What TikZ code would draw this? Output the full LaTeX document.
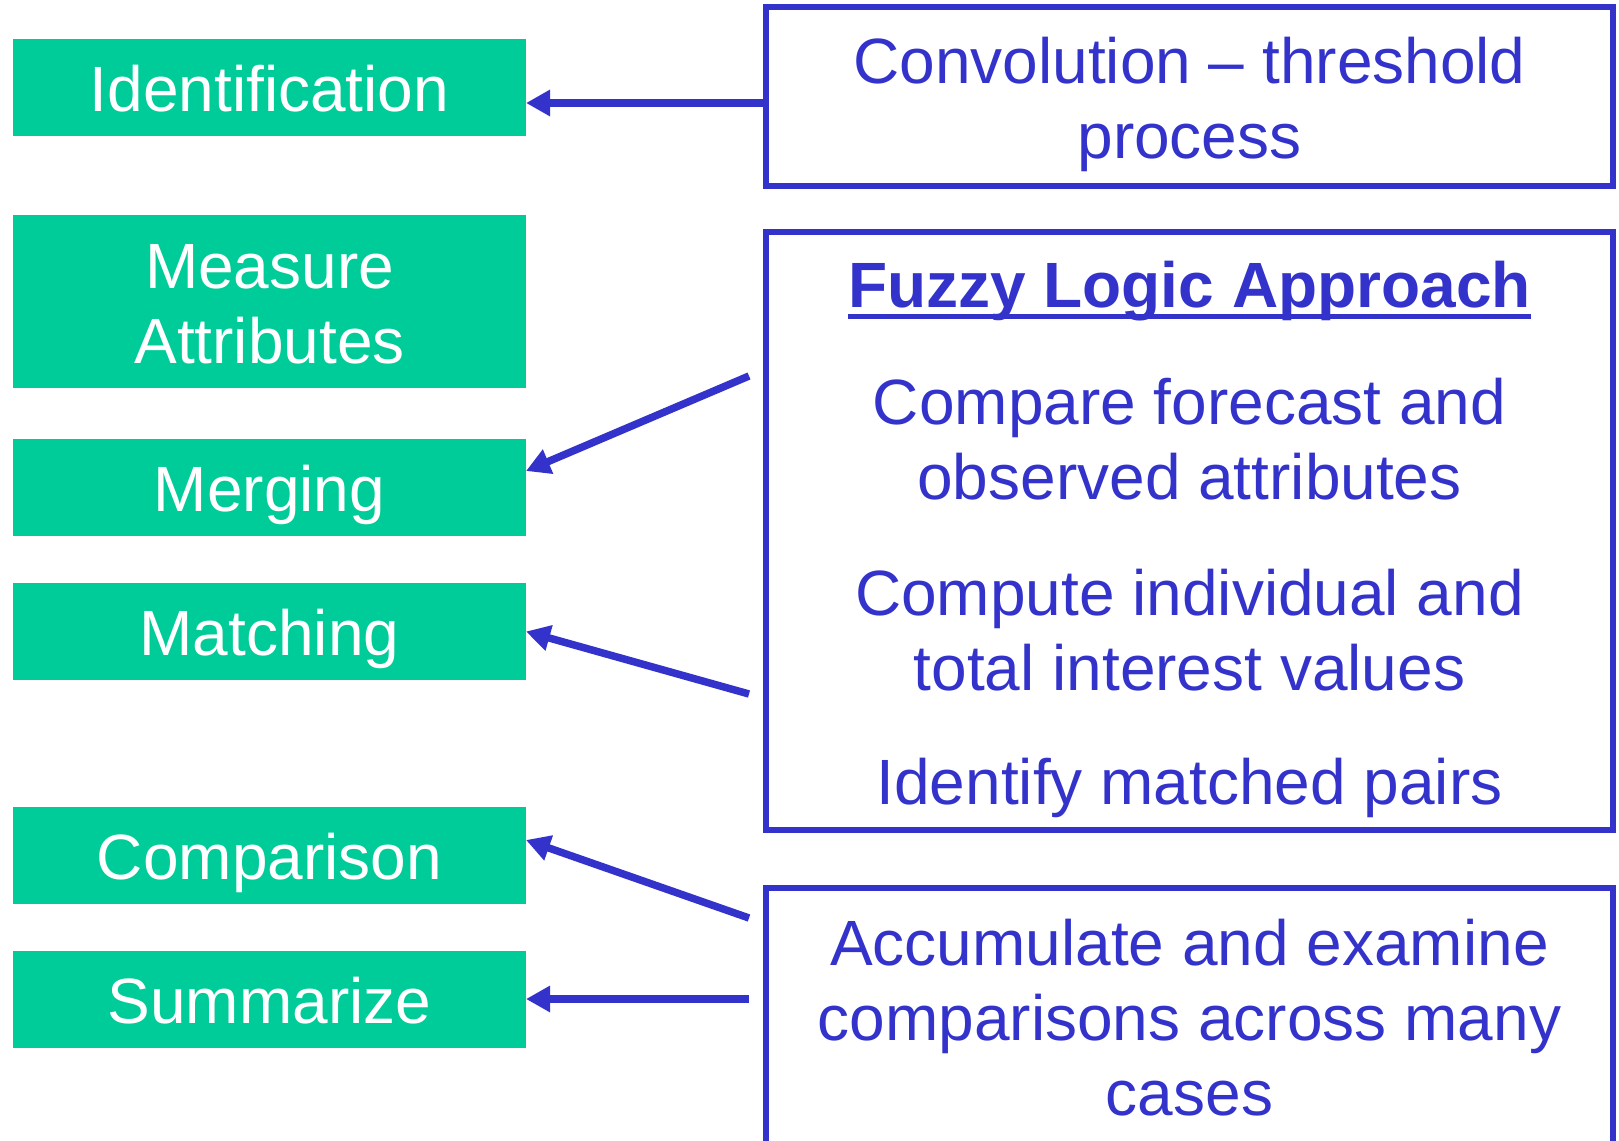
\documentclass[tikz,border=0pt]{standalone}
\usepackage{fontspec}
\setmainfont{Liberation Sans}
\usetikzlibrary{arrows.meta}
\definecolor{grn}{RGB}{0,204,153}
\definecolor{blu}{RGB}{51,51,204}
\newcommand{\myuline}[1]{\setbox0\hbox{#1}\rlap{\rule[-11.5pt]{\wd0}{5pt}}\box0}
\begin{document}
\begin{tikzpicture}[x=1pt,y=-1pt,
  gbox/.style={fill=grn, draw=none, minimum width=513pt, inner sep=0pt, outer sep=0pt},
  bbox/.style={draw=blu, line width=6pt, minimum width=847pt, inner sep=0pt, outer sep=0pt},
  gtext/.style={text=white, font=\fontsize{64}{75}\selectfont, anchor=base, align=center, inner sep=0pt},
  btext/.style={text=blu, font=\fontsize{64}{75}\selectfont, anchor=base, align=center, inner sep=0pt},
  arr/.style={draw=blu, line width=7.5pt, -{Triangle[length=24pt,width=25pt]}}
]
\useasboundingbox (0,0) rectangle (1619,1140);
\clip (0,0) rectangle (1619,1140);

% green boxes
\node[gbox, minimum height=97pt]  (ident)      at (269.5,87.5) {};
\node[gbox, minimum height=173pt] (measure)    at (269.5,301.5) {};
\node[gbox, minimum height=97pt]  (merging)    at (269.5,487.5) {};
\node[gbox, minimum height=97pt]  (matching)   at (269.5,631.5) {};
\node[gbox, minimum height=97pt]  (comparison) at (269.5,855.5) {};
\node[gbox, minimum height=97pt]  (summarize)  at (269.5,999.5) {};

% (anchor=base of a multi-line node lies on its last line)
\node[gtext] (t-ident)      at (269.5,111) {Identification};
\node[gtext] (t-measure)    at (269.5,363) {Measure\\Attributes};
\node[gtext] (t-merging)    at (269.5,511) {Merging};
\node[gtext] (t-matching)   at (269.5,655) {Matching};
\node[gtext] (t-comparison) at (269.5,879) {Comparison};
\node[gtext] (t-summarize)  at (269.5,1023) {Summarize};

% blue boxes
\node[bbox, minimum height=179pt] (conv)  at (1189.5,96.5) {};
\node[bbox, minimum height=598pt] (fuzzy) at (1189.5,531) {};
\node[bbox, minimum height=272pt] (accum) at (1189.5,1024) {};

\node[btext] (t-conv)    at (1189.5,158) {Convolution – threshold\\process};
\node[btext] (t-fuzzy)   at (1189.5,307) {\myuline{\bfseries Fuzzy Logic Approach}};
\node[btext] (t-compare) at (1189.5,499) {Compare forecast and\\observed attributes};
\node[btext] (t-compute) at (1189.5,690) {Compute individual and\\total interest values};
\node[btext] (t-pairs)   at (1189.5,804) {Identify matched pairs};
\node[btext] (t-accum)   at (1189.5,1115) {Accumulate and examine\\comparisons across many\\cases};

% arrows
\coordinate (s1) at ([yshift=-6.5pt]conv.west);
\coordinate (s2) at (749,376);
\coordinate (s3) at (749,694);
\coordinate (s4) at (749,918);
\coordinate (s5) at (749,999);
\draw[arr] (s1) -- ([yshift=-15.5pt]ident.east);
\draw[arr] (s2) -- ([yshift=16.5pt]merging.east);
\draw[arr] (s3) -- (matching.east);
\draw[arr] (s4) -- ([yshift=15.5pt]comparison.east);
\draw[arr] (s5) -- ([yshift=0.5pt]summarize.east);
\end{tikzpicture}
\end{document}
